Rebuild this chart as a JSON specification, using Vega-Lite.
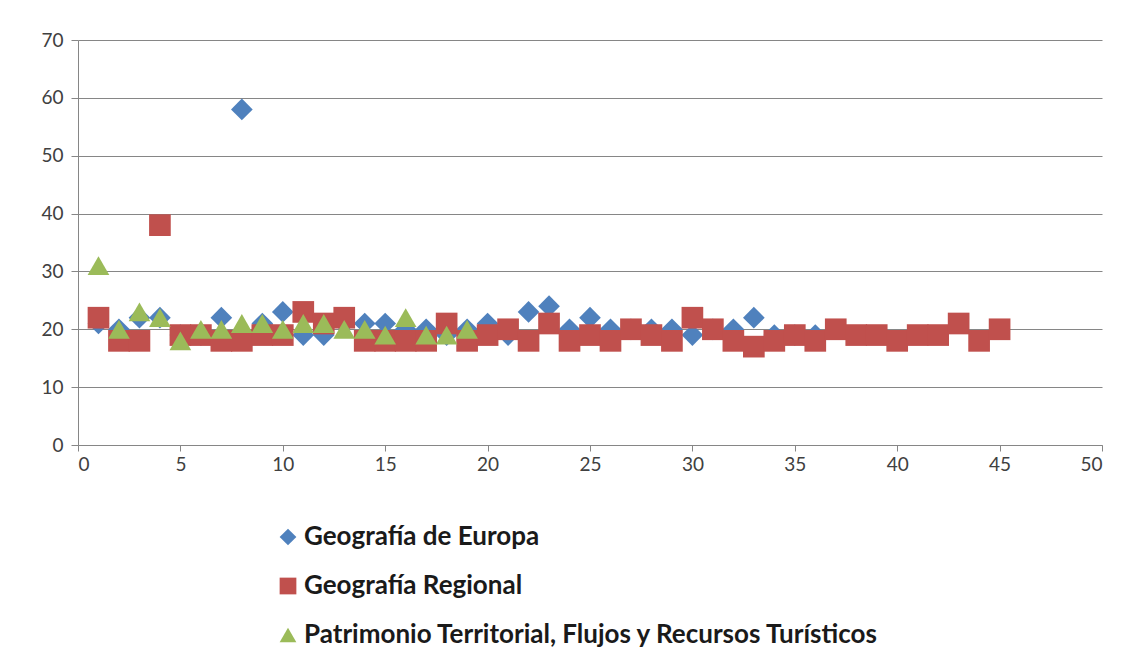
{
  "$schema": "https://vega.github.io/schema/vega-lite/v6.json",
  "width": 1024,
  "height": 405,
  "autosize": "none",
  "padding": {"left": 78, "top": 40, "right": 31, "bottom": 220},
  "background": "white",
  "config": {
    "view": {"stroke": null},
    "font": "Lato"
  },
  "data": {
    "values": [
      {"s": "Geografía de Europa", "x": 1, "y": 21},
      {"s": "Geografía de Europa", "x": 2, "y": 20},
      {"s": "Geografía de Europa", "x": 3, "y": 22},
      {"s": "Geografía de Europa", "x": 4, "y": 22},
      {"s": "Geografía de Europa", "x": 5, "y": 19},
      {"s": "Geografía de Europa", "x": 6, "y": 19},
      {"s": "Geografía de Europa", "x": 7, "y": 22},
      {"s": "Geografía de Europa", "x": 8, "y": 58},
      {"s": "Geografía de Europa", "x": 9, "y": 21},
      {"s": "Geografía de Europa", "x": 10, "y": 23},
      {"s": "Geografía de Europa", "x": 11, "y": 19},
      {"s": "Geografía de Europa", "x": 12, "y": 19},
      {"s": "Geografía de Europa", "x": 13, "y": 21},
      {"s": "Geografía de Europa", "x": 14, "y": 21},
      {"s": "Geografía de Europa", "x": 15, "y": 21},
      {"s": "Geografía de Europa", "x": 16, "y": 20},
      {"s": "Geografía de Europa", "x": 17, "y": 20},
      {"s": "Geografía de Europa", "x": 18, "y": 19},
      {"s": "Geografía de Europa", "x": 19, "y": 20},
      {"s": "Geografía de Europa", "x": 20, "y": 21},
      {"s": "Geografía de Europa", "x": 21, "y": 19},
      {"s": "Geografía de Europa", "x": 22, "y": 23},
      {"s": "Geografía de Europa", "x": 23, "y": 24},
      {"s": "Geografía de Europa", "x": 24, "y": 20},
      {"s": "Geografía de Europa", "x": 25, "y": 22},
      {"s": "Geografía de Europa", "x": 26, "y": 20},
      {"s": "Geografía de Europa", "x": 27, "y": 20},
      {"s": "Geografía de Europa", "x": 28, "y": 20},
      {"s": "Geografía de Europa", "x": 29, "y": 20},
      {"s": "Geografía de Europa", "x": 30, "y": 19},
      {"s": "Geografía de Europa", "x": 31, "y": 20},
      {"s": "Geografía de Europa", "x": 32, "y": 20},
      {"s": "Geografía de Europa", "x": 33, "y": 22},
      {"s": "Geografía de Europa", "x": 34, "y": 19},
      {"s": "Geografía de Europa", "x": 35, "y": 19},
      {"s": "Geografía de Europa", "x": 36, "y": 19},
      {"s": "Geografía Regional", "x": 1, "y": 22},
      {"s": "Geografía Regional", "x": 2, "y": 18},
      {"s": "Geografía Regional", "x": 3, "y": 18},
      {"s": "Geografía Regional", "x": 4, "y": 38},
      {"s": "Geografía Regional", "x": 5, "y": 19},
      {"s": "Geografía Regional", "x": 6, "y": 19},
      {"s": "Geografía Regional", "x": 7, "y": 18},
      {"s": "Geografía Regional", "x": 8, "y": 18},
      {"s": "Geografía Regional", "x": 9, "y": 19},
      {"s": "Geografía Regional", "x": 10, "y": 19},
      {"s": "Geografía Regional", "x": 11, "y": 23},
      {"s": "Geografía Regional", "x": 12, "y": 21},
      {"s": "Geografía Regional", "x": 13, "y": 22},
      {"s": "Geografía Regional", "x": 14, "y": 18},
      {"s": "Geografía Regional", "x": 15, "y": 18},
      {"s": "Geografía Regional", "x": 16, "y": 18},
      {"s": "Geografía Regional", "x": 17, "y": 18},
      {"s": "Geografía Regional", "x": 18, "y": 21},
      {"s": "Geografía Regional", "x": 19, "y": 18},
      {"s": "Geografía Regional", "x": 20, "y": 19},
      {"s": "Geografía Regional", "x": 21, "y": 20},
      {"s": "Geografía Regional", "x": 22, "y": 18},
      {"s": "Geografía Regional", "x": 23, "y": 21},
      {"s": "Geografía Regional", "x": 24, "y": 18},
      {"s": "Geografía Regional", "x": 25, "y": 19},
      {"s": "Geografía Regional", "x": 26, "y": 18},
      {"s": "Geografía Regional", "x": 27, "y": 20},
      {"s": "Geografía Regional", "x": 28, "y": 19},
      {"s": "Geografía Regional", "x": 29, "y": 18},
      {"s": "Geografía Regional", "x": 30, "y": 22},
      {"s": "Geografía Regional", "x": 31, "y": 20},
      {"s": "Geografía Regional", "x": 32, "y": 18},
      {"s": "Geografía Regional", "x": 33, "y": 17},
      {"s": "Geografía Regional", "x": 34, "y": 18},
      {"s": "Geografía Regional", "x": 35, "y": 19},
      {"s": "Geografía Regional", "x": 36, "y": 18},
      {"s": "Geografía Regional", "x": 37, "y": 20},
      {"s": "Geografía Regional", "x": 38, "y": 19},
      {"s": "Geografía Regional", "x": 39, "y": 19},
      {"s": "Geografía Regional", "x": 40, "y": 18},
      {"s": "Geografía Regional", "x": 41, "y": 19},
      {"s": "Geografía Regional", "x": 42, "y": 19},
      {"s": "Geografía Regional", "x": 43, "y": 21},
      {"s": "Geografía Regional", "x": 44, "y": 18},
      {"s": "Geografía Regional", "x": 45, "y": 20},
      {"s": "Patrimonio Territorial, Flujos y Recursos Turísticos", "x": 1, "y": 31},
      {"s": "Patrimonio Territorial, Flujos y Recursos Turísticos", "x": 2, "y": 20},
      {"s": "Patrimonio Territorial, Flujos y Recursos Turísticos", "x": 3, "y": 23},
      {"s": "Patrimonio Territorial, Flujos y Recursos Turísticos", "x": 4, "y": 22},
      {"s": "Patrimonio Territorial, Flujos y Recursos Turísticos", "x": 5, "y": 18},
      {"s": "Patrimonio Territorial, Flujos y Recursos Turísticos", "x": 6, "y": 20},
      {"s": "Patrimonio Territorial, Flujos y Recursos Turísticos", "x": 7, "y": 20},
      {"s": "Patrimonio Territorial, Flujos y Recursos Turísticos", "x": 8, "y": 21},
      {"s": "Patrimonio Territorial, Flujos y Recursos Turísticos", "x": 9, "y": 21},
      {"s": "Patrimonio Territorial, Flujos y Recursos Turísticos", "x": 10, "y": 20},
      {"s": "Patrimonio Territorial, Flujos y Recursos Turísticos", "x": 11, "y": 21},
      {"s": "Patrimonio Territorial, Flujos y Recursos Turísticos", "x": 12, "y": 21},
      {"s": "Patrimonio Territorial, Flujos y Recursos Turísticos", "x": 13, "y": 20},
      {"s": "Patrimonio Territorial, Flujos y Recursos Turísticos", "x": 14, "y": 20},
      {"s": "Patrimonio Territorial, Flujos y Recursos Turísticos", "x": 15, "y": 19},
      {"s": "Patrimonio Territorial, Flujos y Recursos Turísticos", "x": 16, "y": 22},
      {"s": "Patrimonio Territorial, Flujos y Recursos Turísticos", "x": 17, "y": 19},
      {"s": "Patrimonio Territorial, Flujos y Recursos Turísticos", "x": 18, "y": 19},
      {"s": "Patrimonio Territorial, Flujos y Recursos Turísticos", "x": 19, "y": 20}
    ]
  },
  "mark": {"type": "point", "filled": true, "opacity": 1, "size": 470},
  "encoding": {
    "x": {
      "field": "x", "type": "quantitative",
      "scale": {"domain": [0, 50], "nice": false},
      "axis": {
        "title": null, "values": [0,5,10,15,20,25,30,35,40,45,50],
        "grid": false, "domainColor": "#868686", "tickColor": "#868686",
        "tickSize": 6, "labelFontSize": 19, "labelColor": "#404040", "labelPadding": 4
      }
    },
    "y": {
      "field": "y", "type": "quantitative",
      "scale": {"domain": [0, 70], "nice": false},
      "axis": {
        "title": null, "values": [0,10,20,30,40,50,60,70],
        "gridColor": "#868686", "gridWidth": 1, "domainColor": "#868686", "tickColor": "#868686",
        "tickSize": 7, "labelFontSize": 19, "labelColor": "#404040", "labelPadding": 8
      }
    },
    "color": {
      "field": "s", "type": "nominal",
      "scale": {
        "domain": ["Geografía de Europa", "Geografía Regional", "Patrimonio Territorial, Flujos y Recursos Turísticos"],
        "range": ["#4F81BD", "#C0504D", "#9BBB59"]
      },
      "legend": {
        "title": null, "orient": "none", "legendX": 197, "legendY": 484,
        "labelFontSize": 26, "labelFontWeight": "bold", "labelColor": "#1a1a1a",
        "symbolSize": 280, "rowPadding": 23, "labelOffset": 3, "labelLimit": 900
      }
    },
    "shape": {
      "field": "s", "type": "nominal",
      "scale": {
        "domain": ["Geografía de Europa", "Geografía Regional", "Patrimonio Territorial, Flujos y Recursos Turísticos"],
        "range": ["diamond", "square", "triangle-up"]
      },
      "legend": null
    }
  }
}
